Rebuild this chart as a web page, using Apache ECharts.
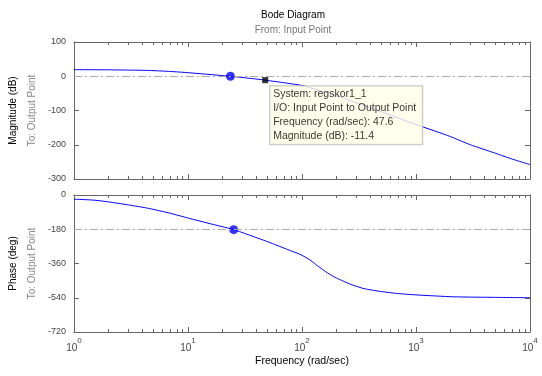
<!DOCTYPE html>
<html>
<head>
<meta charset="utf-8">
<script src="https://cdn.jsdelivr.net/npm/echarts@6/dist/echarts.min.js"></script>
<style>
  html, body { margin: 0; padding: 0; background: #fff; }
  #container { width: 542px; height: 376px; }
</style>
</head>
<body>
<div id="container"></div>
<script>
// magnitude curve (rad/sec, dB)
let magFreq = [1, 1.5, 2, 3, 4.5, 7, 10, 15, 23.6, 35, 47.6, 70, 100, 150, 200, 300, 500, 700, 1000, 1500, 2000, 3000, 5000, 7000, 10000];
let magDb = [19.2, 19, 18.8, 18, 17, 14, 10.5, 5.5, 0, -6, -11.4, -19, -27, -44, -57, -78, -104, -122, -141, -161, -176, -200, -225, -242, -258];

// phase curve (rad/sec, deg)
let phaseFreq = [1, 1.5, 2, 3, 4.5, 7, 10, 15, 25.2, 35, 53.5, 75, 98, 120, 137, 167, 200, 269, 350, 490, 700, 1000, 2140, 5000, 10000];
let phaseDeg = [-22, -27, -36, -52, -70, -96, -121, -148, -182, -212, -252, -287, -314, -345, -372, -409, -436, -470, -492, -507, -518, -525, -535, -538, -540];

// margin markers + data tip
let magMarker = [23.6, 0];
let phaseMarker = [25.2, -182];
let dataTip = [47.6, -11.4];
let tipLines = ['System: regskor1_1', 'I/O: Input Point to Output Point', 'Frequency (rad/sec): 47.6', 'Magnitude (dB): -11.4'];

let decades = [1, 10, 100, 1000, 10000];
let minorTicks = [];
decades.slice(0, 4).forEach((d) => {
  for (let k = 2; k <= 9; k++) minorTicks.push(d * k);
});

const font = 'Liberation Sans, Arial, sans-serif';
const axisGray = '#666';

function xAxisFor(grid, pos, minor, labels) {
  return {
    type: 'log',
    logBase: 10,
    min: 1,
    max: 10000,
    gridIndex: grid,
    position: pos,
    axisLine: { show: !minor, onZero: false, lineStyle: { color: axisGray } },
    axisTick: minor
      ? { show: true, inside: true, length: 3, lineStyle: { color: axisGray }, customValues: minorTicks }
      : { show: true, inside: true, length: 5, lineStyle: { color: axisGray } },
    axisLabel: {
      show: !!labels,
      margin: 5,
      fontFamily: font,
      formatter: (v) => '{b|10}{s|' + Math.round(Math.log10(v)) + '}',
      rich: {
        b: { fontSize: 10, color: '#444', fontFamily: font, lineHeight: 16, verticalAlign: 'bottom' },
        s: { fontSize: 8, color: '#444', fontFamily: font, lineHeight: 16, verticalAlign: 'top' },
      },
    },
    splitLine: { show: false },
    name: labels ? 'Frequency (rad/sec)' : '',
    nameLocation: 'middle',
    nameGap: 24,
    nameTextStyle: { fontFamily: font, fontSize: 10.5, color: '#000' },
  };
}

function yAxisFor(grid, pos, min, max, interval, name) {
  return {
    type: 'value',
    gridIndex: grid,
    position: pos,
    min: min,
    max: max,
    interval: interval,
    axisLine: { show: true, onZero: false, lineStyle: { color: axisGray } },
    axisTick: { show: true, inside: true, length: 5, lineStyle: { color: axisGray } },
    axisLabel: { show: pos === 'left', fontFamily: font, fontSize: 9, color: '#444', margin: 8 },
    splitLine: { show: false },
    name: name ? '{a|' + name + '}\n{b|To: Output Point}' : '',
    nameLocation: 'middle',
    nameRotate: 90,
    nameGap: 29,
    nameTextStyle: {
      rich: {
        a: { fontFamily: font, fontSize: 10, color: '#000', lineHeight: 19 },
        b: { fontFamily: font, fontSize: 10, color: '#888', lineHeight: 19 },
      },
    },
  };
}

const refLine = (val) => ({
  silent: true,
  symbol: 'none',
  label: { show: false },
  lineStyle: { color: '#aaa', type: [8, 3, 2, 3], width: 1 },
  data: [{ yAxis: val }],
});

var graph = echarts.init(document.getElementById('container'));

let option = {
  animation: false,
  backgroundColor: '#fff',
  title: [
    {
      text: 'Bode Diagram',
      left: 288,
      top: 5,
      textAlign: 'center',
      textStyle: { fontFamily: font, fontSize: 10, fontWeight: 'normal', color: '#000' },
    },
    {
      text: 'From: Input Point',
      left: 288,
      top: 20,
      textAlign: 'center',
      textStyle: { fontFamily: font, fontSize: 10, fontWeight: 'normal', color: '#777' },
    },
  ],
  grid: [
    { left: 72, right: 12, top: 42, height: 137 },
    { left: 72, right: 12, top: 195, height: 137 },
  ],
  xAxis: [
    xAxisFor(0, 'bottom', false, false),
    xAxisFor(0, 'top', false, false),
    xAxisFor(0, 'bottom', true, false),
    xAxisFor(0, 'top', true, false),
    xAxisFor(1, 'bottom', false, true),
    xAxisFor(1, 'top', false, false),
    xAxisFor(1, 'bottom', true, false),
    xAxisFor(1, 'top', true, false),
  ],
  yAxis: [
    yAxisFor(0, 'left', -300, 100, 100, 'Magnitude (dB)'),
    yAxisFor(0, 'right', -300, 100, 100, null),
    yAxisFor(1, 'left', -720, 0, 180, 'Phase (deg)'),
    yAxisFor(1, 'right', -720, 0, 180, null),
  ],
  series: [
    {
      name: 'magnitude',
      type: 'line',
      xAxisIndex: 0,
      yAxisIndex: 0,
      showSymbol: false,
      smooth: 0.2,
      lineStyle: { color: '#0000ff', width: 1 },
      data: magFreq.map((f, i) => [f, magDb[i]]),
      markLine: refLine(0),
      z: 3,
    },
    {
      name: 'phase',
      type: 'line',
      xAxisIndex: 4,
      yAxisIndex: 2,
      showSymbol: false,
      smooth: 0.2,
      lineStyle: { color: '#0000ff', width: 1 },
      data: phaseFreq.map((f, i) => [f, phaseDeg[i]]),
      markLine: refLine(-180),
      z: 3,
    },
    {
      type: 'scatter',
      xAxisIndex: 0,
      yAxisIndex: 0,
      symbol: 'circle',
      symbolSize: 9,
      itemStyle: { color: '#0000ff' },
      data: [magMarker],
      z: 4,
    },
    {
      type: 'scatter',
      xAxisIndex: 4,
      yAxisIndex: 2,
      symbol: 'circle',
      symbolSize: 9,
      itemStyle: { color: '#0000ff' },
      data: [phaseMarker],
      z: 4,
    },
    {
      type: 'scatter',
      xAxisIndex: 0,
      yAxisIndex: 0,
      symbol: 'rect',
      symbolSize: 6,
      itemStyle: { color: '#000' },
      data: [dataTip],
      z: 5,
      label: {
        show: true,
        position: [8, 9],
        formatter: tipLines.join('\n'),
        fontFamily: font,
        fontSize: 10.5,
        color: '#000',
        lineHeight: 14,
        backgroundColor: '#ffffe6',
        borderColor: '#b4b4b4',
        borderWidth: 1,
        padding: [1, 6, 1, 3],
      },
    },
  ],
};

if (option && typeof option === 'object') {
  graph.setOption(option);
}
</script>
</body>
</html>
